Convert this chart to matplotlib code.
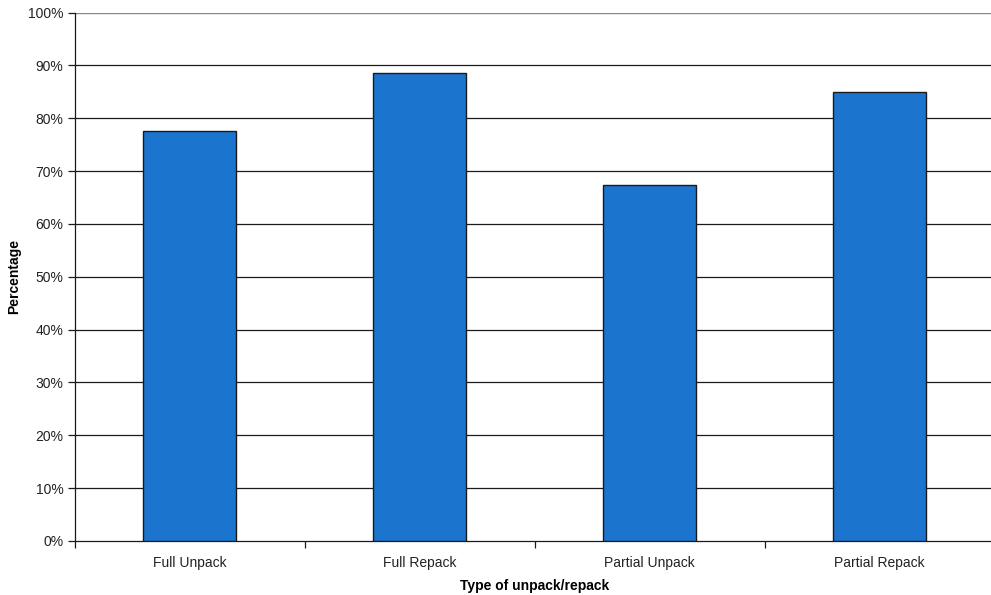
import matplotlib
matplotlib.use('Agg')
import matplotlib.pyplot as plt
import numpy as np

categories = ["Full Unpack", "Full Repack", "Partial Unpack", "Partial Repack"]
percentages = [77.5, 88.5, 67.3, 84.9]
y_ticks = [0, 10, 20, 30, 40, 50, 60, 70, 80, 90, 100]

plt.rcParams['font.family'] = ['Liberation Sans', 'DejaVu Sans']

fig = plt.figure(figsize=(9.91, 5.95), dpi=100)
# plot area runs slightly past the right edge of the image, as in the original
ax = fig.add_axes([0.0752, 0.0908, 0.9284, 0.888])

x = np.arange(len(categories))
ax.bar(x, percentages, width=0.405, color="#1b75cf", edgecolor="#1a1a1a",
       linewidth=1.0, zorder=3)

ax.set_xlim(-0.5, len(categories) - 0.5)
ax.set_ylim(0, 100)
ax.set_yticks(y_ticks)
ax.set_yticklabels([f"{t}%" for t in y_ticks], fontsize=10, color="#222222")

# gridlines (top one is lighter, like the plot border)
for t in y_ticks[1:-1]:
    ax.axhline(t, color="#1a1a1a", linewidth=0.9, zorder=1)
ax.axhline(100, color="#888888", linewidth=1.0, zorder=1)

# category ticks sit at the boundaries between groups
ax.set_xticks(np.arange(len(categories) + 1) - 0.5)
ax.set_xticklabels([])
ax.set_xticks(x, minor=True)
ax.set_xticklabels(categories, minor=True, fontsize=10, color="#222222")
ax.tick_params(axis='x', which='minor', length=0, pad=10.5)
ax.tick_params(axis='x', which='major', length=5, width=0.9, color="#1a1a1a")
ax.tick_params(axis='y', length=5, width=0.9, color="#1a1a1a", pad=3)

for side in ("top", "right"):
    ax.spines[side].set_visible(False)
for side in ("left", "bottom"):
    ax.spines[side].set_color("#1a1a1a")
    ax.spines[side].set_linewidth(0.9)

ax.set_xlabel("Type of unpack/repack", fontsize=10, fontweight="bold", labelpad=7)
ax.set_ylabel("Percentage", fontsize=10, fontweight="bold", labelpad=5)

fig.savefig("out.png", dpi=100)
